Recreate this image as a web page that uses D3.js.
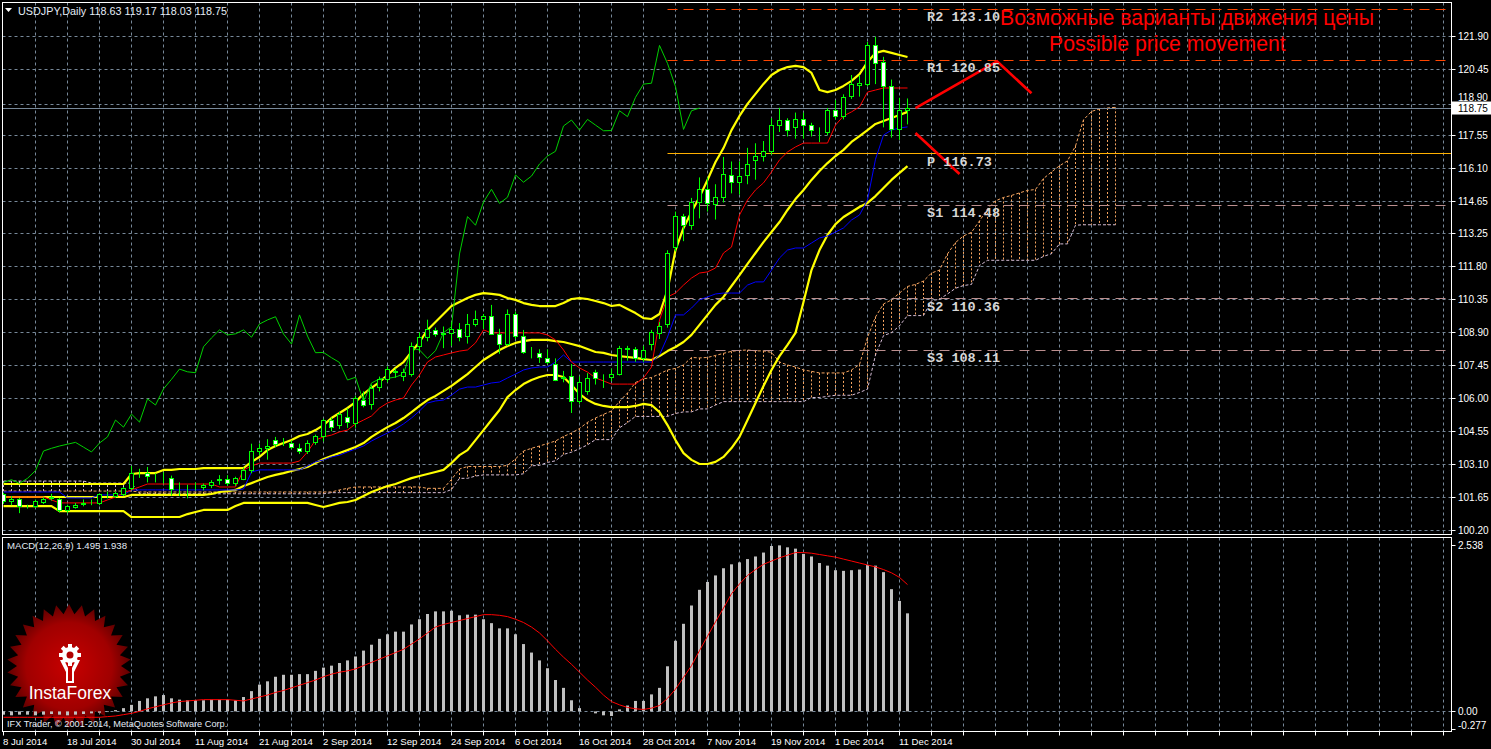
<!DOCTYPE html>
<html><head><meta charset="utf-8">
<script src="https://cdn.jsdelivr.net/npm/d3@7/dist/d3.min.js"></script>
<style>html,body{margin:0;padding:0;background:#000;overflow:hidden}svg{display:block}</style>
</head><body>
<svg id="c" width="1491" height="749"></svg>
<script>
// ---------------- DATA ----------------
const symbolTitle = "USDJPY,Daily  118.63 119.17 118.03 118.75";
const macdTitle = "MACD(12,26,9) 1.495 1.938";
const dateLabels = ["8 Jul 2014","18 Jul 2014","30 Jul 2014","11 Aug 2014","21 Aug 2014","2 Sep 2014","12 Sep 2014","24 Sep 2014","6 Oct 2014","16 Oct 2014","28 Oct 2014","7 Nov 2014","19 Nov 2014","1 Dec 2014","11 Dec 2014"];
const priceTicks = [121.90,120.45,118.90,117.55,116.10,114.65,113.25,111.80,110.35,108.90,107.45,106.00,104.55,103.10,101.65,100.20];
const macdTicks = [2.538,0.00,-0.277];
const lastPrice = 118.75;

const open  = [101.75,101.45,101.57,101.23,101.23,101.41,101.58,101.56,101.06,101.22,101.33,101.40,101.38,101.75,101.70,101.78,102.05,102.72,102.70,102.48,102.50,102.48,102.00,101.97,102.10,102.08,102.15,102.40,102.41,102.26,102.45,102.82,103.68,103.78,104.16,104.05,104.02,103.81,103.64,104.06,104.30,105.00,104.78,105.17,104.91,105.92,105.74,106.45,106.84,107.15,106.97,107.02,108.26,108.65,108.97,108.82,108.85,109.00,108.70,109.26,109.44,109.58,108.82,108.38,109.66,108.70,108.00,107.95,107.76,107.50,106.88,106.95,105.85,106.30,107.12,106.92,106.92,107.06,108.19,108.16,107.75,108.35,108.85,109.22,112.60,113.98,113.60,114.59,115.18,114.49,114.83,115.80,115.48,115.80,116.44,116.64,116.84,117.96,118.22,117.90,118.25,117.96,117.75,117.66,118.66,118.37,119.25,119.75,119.80,121.50,120.74,119.69,117.81,118.63];
const high  = [101.85,101.70,101.62,101.32,101.55,101.65,101.80,101.62,101.32,101.40,101.55,101.55,101.82,101.90,101.90,102.10,103.02,102.90,102.98,102.70,102.75,102.60,102.30,102.20,102.30,102.25,102.40,102.62,102.62,102.55,102.95,104.00,104.00,104.20,104.30,104.25,104.15,104.00,104.15,104.40,105.10,105.15,105.40,105.55,106.10,106.30,106.60,106.95,107.40,107.30,107.30,108.45,108.90,109.45,109.10,109.15,109.35,109.30,109.70,109.85,109.70,110.10,109.05,109.90,109.80,109.00,108.25,108.15,108.15,107.75,107.20,107.50,106.95,107.10,107.25,107.05,107.30,108.30,108.30,108.25,108.30,109.00,109.35,112.50,114.20,114.10,114.80,115.70,115.70,115.40,116.60,116.40,116.40,117.00,117.20,117.30,118.30,118.76,118.30,118.55,118.55,118.10,117.90,118.75,119.10,119.35,120.20,120.20,121.65,121.88,121.00,120.00,119.20,119.17];
const low   = [101.35,101.30,100.95,101.15,101.18,101.35,101.50,100.98,100.95,101.15,101.25,101.30,101.30,101.60,101.62,101.70,101.95,102.50,102.30,102.30,102.25,101.72,101.70,101.60,101.95,101.95,102.05,102.20,102.15,102.15,102.40,102.70,103.50,103.30,103.85,103.90,103.75,103.55,103.55,103.95,104.10,104.55,104.65,104.70,104.70,105.60,105.50,106.30,106.70,106.90,106.75,106.95,108.05,108.50,108.70,108.20,108.30,108.50,108.40,109.15,109.05,108.80,107.95,108.30,108.60,107.95,107.75,107.55,107.50,106.75,106.70,105.35,105.75,106.15,106.60,106.45,106.75,107.00,107.65,107.60,107.60,108.10,108.60,109.10,112.45,112.90,113.40,113.90,114.20,113.85,114.60,115.00,114.95,115.40,115.60,116.40,116.70,117.70,117.50,117.40,117.40,117.50,117.25,117.55,118.25,118.25,119.15,119.25,119.70,119.80,117.90,117.45,117.35,118.03];
const close = [101.45,101.56,101.23,101.24,101.44,101.56,101.64,101.06,101.24,101.30,101.36,101.42,101.75,101.76,101.82,102.05,102.70,102.74,102.55,102.49,102.51,102.00,102.01,101.98,102.12,102.18,102.30,102.42,102.26,102.48,102.82,103.68,103.80,103.90,103.98,104.06,103.85,103.64,104.03,104.30,105.04,104.73,105.30,104.95,105.97,105.70,106.41,106.83,107.28,107.16,107.12,108.26,108.65,109.00,108.78,108.83,109.00,108.68,109.26,109.44,109.58,108.82,108.38,109.66,108.73,108.00,108.01,107.78,107.57,106.80,106.92,105.85,106.67,106.85,106.87,106.93,107.06,108.19,108.12,107.75,108.09,108.88,109.14,112.34,113.98,113.60,114.62,115.18,114.56,114.83,115.81,115.49,115.76,116.29,116.64,116.85,117.96,118.22,117.78,118.25,118.00,117.75,117.76,118.63,118.37,119.22,119.80,119.84,121.50,120.71,119.69,117.81,118.63,118.75];

const tenkan = [101.66,101.66,101.66,101.66,101.66,101.66,101.53,101.40,101.40,101.40,101.40,101.40,101.40,101.53,101.66,101.84,101.97,102.10,102.23,102.23,102.23,102.23,102.23,102.23,102.23,102.23,102.23,102.10,102.10,102.10,102.85,103.02,103.15,103.15,103.15,103.15,103.15,103.24,103.64,104.16,104.30,104.38,104.52,104.60,104.87,105.04,105.22,105.57,105.79,105.92,106.01,106.58,107.02,107.59,107.81,107.90,107.99,108.07,108.12,108.43,109.00,108.87,108.87,108.87,108.87,108.87,108.87,108.87,108.78,108.56,108.12,107.59,107.33,107.15,106.89,106.76,106.62,106.62,106.62,106.62,106.89,107.37,109.44,110.45,110.62,110.97,111.28,111.50,111.55,111.72,112.38,112.64,114.05,114.71,115.15,115.46,115.94,116.47,116.82,117.04,117.21,117.21,117.21,117.21,118.00,118.40,118.58,118.80,119.45,119.54,119.63,119.63,119.63,119.63];
const kijun = [101.88,101.88,101.88,101.88,101.88,101.88,101.88,101.88,101.62,101.62,101.62,101.62,101.75,101.75,101.75,101.75,101.97,101.97,101.97,101.97,101.97,101.97,101.97,101.97,101.97,101.97,101.97,101.97,101.97,101.97,102.01,102.76,102.85,102.85,102.85,102.85,102.85,102.85,103.02,103.20,103.29,103.42,103.50,103.64,103.77,103.90,104.12,104.30,104.47,104.65,104.87,105.13,105.44,105.79,105.88,105.92,106.14,106.40,106.49,106.49,106.58,106.67,106.71,106.89,107.06,107.24,107.33,107.37,107.37,107.59,107.90,107.59,107.59,107.59,107.59,107.59,107.59,107.59,107.59,107.59,107.59,107.59,107.90,108.69,109.66,109.66,109.96,110.32,110.45,110.58,110.62,110.62,110.62,110.97,111.11,111.11,111.63,112.16,112.51,112.60,112.60,112.82,113.04,113.13,113.30,113.48,113.83,114.05,114.71,116.50,117.56,117.78,117.87,117.92];

const bbUpper = [102.23,102.23,102.23,102.23,102.23,102.23,102.23,102.23,102.23,102.23,102.23,102.23,102.23,102.23,102.23,102.23,102.67,102.71,102.71,102.71,102.85,102.85,102.89,102.89,102.89,102.93,102.93,102.93,102.93,102.93,102.93,103.20,103.42,103.72,103.90,104.03,104.16,104.34,104.43,104.60,104.82,105.13,105.35,105.57,105.83,106.19,106.45,106.71,107.02,107.33,107.59,108.03,108.47,109.00,109.35,109.70,110.05,110.23,110.40,110.54,110.62,110.58,110.54,110.40,110.32,110.18,110.10,110.05,110.05,110.05,110.18,110.36,110.40,110.36,110.27,110.18,110.05,110.10,109.92,109.74,109.52,109.48,109.70,110.75,112.51,113.48,114.18,114.84,115.59,116.38,116.99,117.78,118.40,118.93,119.37,119.81,120.20,120.42,120.55,120.60,120.55,120.29,119.54,119.45,119.54,119.72,119.94,120.24,120.77,121.17,121.26,121.17,121.08,120.99];
const bbMiddle = [101.66,101.66,101.66,101.66,101.66,101.66,101.66,101.66,101.66,101.66,101.66,101.66,101.66,101.66,101.66,101.66,101.75,101.75,101.75,101.75,101.75,101.75,101.75,101.75,101.75,101.75,101.79,101.88,101.92,101.97,102.14,102.27,102.41,102.54,102.63,102.71,102.80,102.89,102.98,103.15,103.33,103.46,103.59,103.72,103.86,104.03,104.30,104.52,104.73,104.91,105.13,105.39,105.66,105.92,106.10,106.32,106.54,106.80,107.06,107.37,107.68,107.90,108.12,108.29,108.43,108.51,108.56,108.56,108.56,108.51,108.47,108.38,108.29,108.16,108.03,107.99,107.90,107.85,107.81,107.77,107.72,107.68,107.85,108.07,108.25,108.47,108.78,109.22,109.66,110.10,110.45,110.93,111.41,111.90,112.38,112.86,113.30,113.74,114.27,114.75,115.15,115.59,115.98,116.33,116.64,116.91,117.26,117.52,117.78,118.05,118.18,118.31,118.44,118.58];
const bbLower = [101.26,101.26,101.26,101.26,101.26,101.26,101.26,101.04,101.04,101.04,101.04,101.04,101.04,101.04,101.04,101.04,100.78,100.78,100.78,100.78,100.78,100.78,100.78,100.91,101.00,101.09,101.09,101.09,101.09,101.26,101.40,101.40,101.40,101.40,101.40,101.40,101.40,101.40,101.40,101.31,101.22,101.31,101.40,101.44,101.53,101.70,101.88,102.01,102.14,102.23,102.36,102.49,102.58,102.67,102.76,102.85,103.15,103.50,103.72,104.16,104.60,105.04,105.48,106.05,106.36,106.62,106.80,106.93,107.02,107.02,106.93,106.58,106.19,105.92,105.75,105.66,105.61,105.61,105.61,105.66,105.75,105.70,105.39,104.82,104.16,103.59,103.29,103.11,103.11,103.20,103.42,103.81,104.30,105.04,105.79,106.54,107.24,107.85,108.34,108.87,110.23,111.63,112.51,113.17,113.65,113.96,114.18,114.40,114.58,114.88,115.24,115.59,115.90,116.20];

// Ichimoku cloud (extends 26 bars beyond the last candle)
const spanA = [101.92,101.92,101.92,101.92,101.92,101.92,101.92,101.92,101.92,101.92,101.92,101.92,101.92,101.92,101.92,101.92,101.92,101.88,101.88,101.88,101.88,101.88,101.88,101.88,101.88,101.88,101.88,101.88,101.88,101.88,101.88,101.88,101.88,101.88,101.88,101.88,101.88,101.88,101.88,101.88,101.88,101.88,101.97,102.04,102.10,102.10,102.10,102.10,102.10,102.10,102.10,102.10,102.10,102.04,102.04,102.04,102.43,102.89,103.00,103.00,103.00,103.00,103.00,103.05,103.33,103.68,103.80,103.90,104.01,104.12,104.32,104.47,104.67,104.94,105.13,105.29,105.44,105.86,106.23,106.69,106.85,106.91,107.07,107.24,107.31,107.46,107.79,107.77,107.79,107.88,107.97,108.06,108.10,108.12,108.08,108.08,108.01,107.59,107.46,107.37,107.24,107.18,107.11,107.11,107.11,107.11,107.24,107.48,108.67,109.57,110.14,110.32,110.62,110.91,111.00,111.15,111.50,111.63,112.34,112.84,113.13,113.29,113.79,114.32,114.67,114.82,114.91,115.02,115.13,115.17,115.65,115.94,116.21,116.43,117.08,118.23,118.60,118.71,118.75,118.78];
const spanB = [102.36,102.36,102.36,102.36,102.36,102.36,102.36,102.36,102.36,102.36,102.36,102.27,102.27,102.27,102.27,102.27,102.27,101.80,101.80,101.80,101.80,101.80,101.80,101.80,101.80,101.80,101.80,101.80,101.80,101.80,101.80,101.80,101.80,101.80,101.80,101.80,101.80,101.80,101.80,101.80,101.80,101.85,101.85,101.85,101.85,101.85,101.85,101.85,101.85,101.85,101.85,101.85,101.85,101.85,101.85,101.85,101.99,102.48,102.48,102.58,102.63,102.63,102.63,102.63,102.63,102.68,103.03,103.05,103.18,103.25,103.53,103.63,103.78,103.95,104.18,104.18,104.18,104.70,104.93,105.20,105.20,105.20,105.20,105.20,105.33,105.40,105.40,105.53,105.53,105.70,105.85,105.85,105.85,105.85,105.85,105.85,105.85,105.85,105.85,105.85,105.85,106.03,106.03,106.08,106.13,106.13,106.13,106.25,106.40,107.90,108.75,108.88,109.18,109.63,109.63,109.63,110.28,110.35,110.58,110.83,110.95,111.00,111.83,112.06,112.06,112.06,112.06,112.06,112.06,112.06,112.23,112.35,112.78,112.78,113.60,113.62,113.62,113.62,113.62,113.62];

const macd = [-0.05,-0.06,-0.05,-0.05,-0.06,-0.05,-0.04,-0.05,-0.06,-0.05,-0.04,-0.03,-0.02,-0.01,0.02,0.05,0.10,0.16,0.20,0.23,0.25,0.20,0.18,0.17,0.17,0.17,0.18,0.18,0.18,0.17,0.22,0.31,0.41,0.46,0.53,0.56,0.56,0.57,0.57,0.62,0.67,0.70,0.74,0.78,0.84,0.93,1.02,1.11,1.18,1.22,1.22,1.33,1.41,1.49,1.53,1.53,1.54,1.47,1.48,1.48,1.41,1.35,1.27,1.27,1.18,1.03,0.90,0.78,0.66,0.48,0.36,0.17,0.05,0.00,-0.03,-0.06,-0.07,0.03,0.09,0.16,0.16,0.26,0.36,0.69,1.08,1.34,1.62,1.86,1.98,2.08,2.19,2.25,2.28,2.33,2.37,2.43,2.53,2.54,2.51,2.49,2.41,2.37,2.27,2.23,2.16,2.15,2.16,2.17,2.24,2.23,2.13,1.87,1.69,1.50];
const signal = [-0.09,-0.09,-0.09,-0.09,-0.09,-0.09,-0.09,-0.09,-0.09,-0.09,-0.09,-0.09,-0.09,-0.08,-0.07,-0.05,-0.03,0.00,0.04,0.07,0.10,0.13,0.15,0.16,0.17,0.18,0.18,0.18,0.18,0.17,0.16,0.19,0.22,0.25,0.29,0.32,0.36,0.40,0.44,0.48,0.53,0.57,0.60,0.62,0.65,0.70,0.75,0.80,0.85,0.90,0.95,1.03,1.11,1.20,1.29,1.33,1.36,1.39,1.42,1.45,1.48,1.48,1.47,1.45,1.41,1.36,1.29,1.20,1.08,0.95,0.83,0.72,0.60,0.48,0.37,0.25,0.15,0.10,0.06,0.04,0.03,0.05,0.09,0.20,0.34,0.52,0.70,0.93,1.15,1.37,1.58,1.80,1.95,2.08,2.17,2.25,2.30,2.35,2.39,2.43,2.43,2.42,2.40,2.38,2.36,2.33,2.30,2.27,2.24,2.21,2.17,2.12,2.05,1.94];

const pivotNames  = ["R2","R1","P","S1","S2","S3"];
const pivotValues = [123.10,120.85,116.73,114.48,110.36,108.11];
const pivotStartBar = 83;

// hand-drawn forecast arrows (bar index, price)
const forecastUp   = [[114,118.75],[124.2,120.80],[128.5,119.40]];
const forecastDown = [[114,117.65],[119.5,115.85]];
const noteRu = "Возможные варианты движения цены";
const noteEn = "Possible price movement";
const copyright = "IFX Trader, © 2001-2014, MetaQuotes Software Corp.";
const logoText = "InstaForex";

// ---------------- LAYOUT ----------------
const svg = d3.select("#c");
const L = 2.5, R = 1451.5, T = 2.5, MB = 534.5, MT = 537.5, BB = 731.5;
const x = d3.scaleLinear().domain([0, 1]).range([3.5, 11.5]);
const y = d3.scaleLinear().domain([99.99, 123.32]).range([535, 4]);
const ym = d3.scaleLinear().domain([-0.277, 2.538]).range([729.5, 545.5]);
const cr = v => Math.floor(v) + 0.5;
const gridColor = "#778899";
const font = "'Liberation Sans', Arial, sans-serif";

svg.append("rect").attr("width", 1491).attr("height", 749).attr("fill", "#000");
const defs = svg.append("defs");
defs.append("clipPath").attr("id", "cm").append("rect").attr("x", 3).attr("y", 3).attr("width", 1448).attr("height", 531);
defs.append("clipPath").attr("id", "cd").append("rect").attr("x", 3).attr("y", 538).attr("width", 1448).attr("height", 193);
const rg = defs.append("radialGradient").attr("id", "lg");
rg.append("stop").attr("offset", "0%").attr("stop-color", "#c80000");
rg.append("stop").attr("offset", "70%").attr("stop-color", "#a00000");
rg.append("stop").attr("offset", "100%").attr("stop-color", "#600000");

const nBars = close.length;
const gridBars = d3.range(4, 181, 4);

// ---------------- MAIN PANEL ----------------
const main = svg.append("g").attr("clip-path", "url(#cm)");
main.selectAll(".vg").data(gridBars).join("line")
  .attr("x1", k => cr(x(k))).attr("x2", k => cr(x(k))).attr("y1", T).attr("y2", MB)
  .attr("stroke", gridColor).attr("stroke-dasharray", "3,3");
main.selectAll(".hg").data(priceTicks).join("line")
  .attr("x1", L).attr("x2", R).attr("y1", v => cr(y(v))).attr("y2", v => cr(y(v)))
  .attr("stroke", gridColor).attr("stroke-dasharray", "3,3");

// cloud hatch
const cloud = spanA.map((a, j) => ({ j, a, b: spanB[j] }));
main.selectAll(".hatch").data(cloud).join("line")
  .attr("x1", d => cr(x(d.j))).attr("x2", d => cr(x(d.j)))
  .attr("y1", d => y(d.a)).attr("y2", d => y(d.b))
  .attr("stroke", d => d.a >= d.b ? "#f4a460" : "#d8bfd8")
  .attr("stroke-dasharray", "2,2").attr("stroke-width", 1);
const lineA = d3.line().x((d, j) => x(j)).y(d => y(d));
main.append("path").attr("d", lineA(spanA)).attr("fill", "none").attr("stroke", "#f4a460").attr("stroke-dasharray", "3,2");
main.append("path").attr("d", lineA(spanB)).attr("fill", "none").attr("stroke", "#d8bfd8").attr("stroke-dasharray", "3,2");

// pivot lines
const pivColor = n => n[0] === "R" ? "#ff4500" : (n === "P" ? "#ffb000" : "#bc8f8f");
main.selectAll(".piv").data(pivotValues).join("line")
  .attr("x1", x(pivotStartBar)).attr("x2", R)
  .attr("y1", v => cr(y(v))).attr("y2", v => cr(y(v)))
  .attr("stroke", (v, i) => pivColor(pivotNames[i]))
  .attr("stroke-dasharray", (v, i) => pivotNames[i] === "P" ? null : "10,6");

// current price line
main.append("line").attr("x1", L).attr("x2", R).attr("y1", cr(y(lastPrice))).attr("y2", cr(y(lastPrice)))
  .attr("stroke", "#778899");

// Bollinger bands
const lineS = d3.line().x((d, k) => x(k)).y(d => y(d));
[bbUpper, bbMiddle, bbLower].forEach(s =>
  main.append("path").attr("d", lineS(s)).attr("fill", "none").attr("stroke", "#ffff00").attr("stroke-width", 2.2).attr("stroke-linejoin", "round"));
main.append("path").attr("d", lineS(kijun)).attr("fill", "none").attr("stroke", "#0000ff").attr("stroke-width", 1);
main.append("path").attr("d", lineS(tenkan)).attr("fill", "none").attr("stroke", "#ff0000").attr("stroke-width", 1);
// chikou = close shifted back 26 bars
const chikou = close.slice(26);
main.append("path").attr("d", lineS(chikou)).attr("fill", "none").attr("stroke", "#00d000").attr("stroke-width", 1);

// candles
const bars = d3.range(nBars).map(k => ({ k, o: open[k], h: high[k], l: low[k], c: close[k] }));
const cg = main.append("g");
cg.selectAll(".wick").data(bars).join("line")
  .attr("x1", d => cr(x(d.k))).attr("x2", d => cr(x(d.k)))
  .attr("y1", d => y(d.h)).attr("y2", d => y(d.l)).attr("stroke", "#00ff00");
cg.selectAll(".body").data(bars).join("rect")
  .attr("x", d => cr(x(d.k)) - 2).attr("width", 4)
  .attr("y", d => cr(y(Math.max(d.o, d.c))))
  .attr("height", d => Math.max(0, cr(y(Math.min(d.o, d.c))) - cr(y(Math.max(d.o, d.c)))))
  .attr("fill", d => d.c >= d.o ? "#000" : "#fff").attr("stroke", "#00ff00").attr("stroke-width", 1);

// forecast arrows
const lineF = d3.line().x(d => x(d[0])).y(d => y(d[1]));
[forecastUp, forecastDown].forEach(f =>
  main.append("path").attr("d", lineF(f)).attr("fill", "none").attr("stroke", "#ff0000").attr("stroke-width", 2.6));

// pivot labels
main.selectAll(".pl").data(pivotValues).join("text")
  .attr("x", x(115.45)).attr("y", v => y(v) + 12)
  .attr("fill", "#d6d6d6").attr("font-family", "'Liberation Mono', 'DejaVu Sans Mono', monospace")
  .attr("font-weight", "bold").attr("font-size", 13.5)
  .text((v, i) => pivotNames[i] + " " + v.toFixed(2));

// notes
main.append("text").attr("x", 1000).attr("y", 25).attr("fill", "#ff0000").attr("font-family", font).attr("font-size", 21.2).text(noteRu);
main.append("text").attr("x", 1049).attr("y", 51).attr("fill", "#ff0000").attr("font-family", font).attr("font-size", 21.2).text(noteEn);

// title
svg.append("path").attr("d", "M5,8 L12,8 L8.5,12 Z").attr("fill", "#fff");
svg.append("text").attr("x", 18).attr("y", 15).attr("fill", "#e4ecf6").attr("font-family", font).attr("font-size", 10.8).text(symbolTitle);

// ---------------- MACD PANEL ----------------
const mg = svg.append("g").attr("clip-path", "url(#cd)");
mg.selectAll(".vg").data(gridBars).join("line")
  .attr("x1", k => cr(x(k))).attr("x2", k => cr(x(k))).attr("y1", MT).attr("y2", BB)
  .attr("stroke", gridColor).attr("stroke-dasharray", "3,3");
mg.append("line").attr("x1", L).attr("x2", R).attr("y1", cr(ym(0))).attr("y2", cr(ym(0)))
  .attr("stroke", gridColor).attr("stroke-dasharray", "3,3");

// logo (behind histogram)
const cx0 = 69, cy0 = 666, nSp = 30;
const starPts = d3.range(nSp * 2).map(i => {
  const a = Math.PI * i / nSp - Math.PI / 2, r = i % 2 ? 52 : 62;
  return [cx0 + r * Math.cos(a), cy0 + r * Math.sin(a)];
});
mg.append("path").attr("d", "M" + starPts.map(p => p.join(",")).join("L") + "Z").attr("fill", "url(#lg)");
const icon = mg.append("g").attr("fill", "#fff");
d3.range(8).forEach(i => {
  icon.append("rect").attr("x", cx0 - 1).attr("y", 644).attr("width", 4).attr("height", 5)
    .attr("transform", `rotate(${i * 45},${cx0 + 1},655)`);
});
icon.append("circle").attr("cx", cx0 + 1).attr("cy", 655).attr("r", 8);
mg.append("circle").attr("cx", cx0 + 1).attr("cy", 655).attr("r", 3.5).attr("fill", "#b00000");
icon.append("path").attr("d", `M${cx0 - 9},660 L${cx0 - 5},660 L${cx0 - 1},668 L${cx0 - 1},681 L${cx0 + 3},681 L${cx0 + 3},668 L${cx0 + 7},660 L${cx0 + 11},660 L${cx0 + 5},672 L${cx0 + 5},683 L${cx0 - 3},683 L${cx0 - 3},672 Z`);
mg.append("text").attr("x", cx0 + 1).attr("y", 699).attr("text-anchor", "middle").attr("fill", "#fff")
  .attr("font-family", font).attr("font-size", 17.5).text(logoText);

// histogram + signal
mg.selectAll(".mh").data(macd).join("rect")
  .attr("x", (v, k) => cr(x(k)) - 1.5).attr("width", 3)
  .attr("y", v => Math.min(ym(v), ym(0))).attr("height", v => Math.abs(ym(v) - ym(0)))
  .attr("fill", "#c0c0c0");
mg.append("path").attr("d", d3.line().x((d, k) => x(k)).y(d => ym(d))(signal))
  .attr("fill", "none").attr("stroke", "#ff0000").attr("stroke-width", 1);

mg.append("text").attr("x", 7).attr("y", 549).attr("fill", "#e4ecf6").attr("font-family", font).attr("font-size", 9.6).text(macdTitle);
mg.append("text").attr("x", 7).attr("y", 727).attr("fill", "#e4ecf6").attr("font-family", font).attr("font-size", 9.2).text(copyright);

// ---------------- FRAMES & AXES ----------------
const fr = svg.append("g").attr("fill", "none").attr("stroke", "#fff");
fr.append("rect").attr("x", L).attr("y", T).attr("width", R - L).attr("height", MB - T);
fr.append("rect").attr("x", L).attr("y", MT).attr("width", R - L).attr("height", BB - MT);

// right price axis (label of the grid line hidden under the last-price box is lifted above it)
const boxTop = y(lastPrice) - 6.5;
const ax = svg.append("g").attr("font-family", font).attr("font-size", 10).attr("fill", "#fff");
ax.selectAll("line").data(priceTicks).join("line")
  .attr("x1", R).attr("x2", R + 4).attr("y1", v => cr(y(v))).attr("y2", v => cr(y(v))).attr("stroke", "#fff");
ax.selectAll("text").data(priceTicks).join("text")
  .attr("x", 1458).attr("y", v => Math.abs(v - lastPrice) < 0.5 ? boxTop - 0.5 : y(v) + 3.5).text(v => v.toFixed(2));
svg.append("rect").attr("x", 1452).attr("y", boxTop).attr("width", 39).attr("height", 13).attr("fill", "#fff");
svg.append("text").attr("x", 1458).attr("y", y(lastPrice) + 3.5).attr("fill", "#000").attr("font-family", font).attr("font-size", 10).text(lastPrice.toFixed(2));

// MACD axis
const mx = svg.append("g").attr("font-family", font).attr("font-size", 10).attr("fill", "#fff");
mx.selectAll("line").data(macdTicks).join("line")
  .attr("x1", R).attr("x2", R + 4).attr("y1", v => cr(ym(v))).attr("y2", v => cr(ym(v))).attr("stroke", "#fff");
mx.selectAll("text").data(macdTicks).join("text")
  .attr("x", 1458).attr("y", v => ym(v) + (v < 0 ? -1 : 3.5)).text(v => v === 0 ? "0.00" : v.toFixed(3));

// time axis
const tx = svg.append("g");
tx.selectAll("line").data(gridBars.concat([0]).filter(k => x(k) < R)).join("line")
  .attr("x1", k => cr(x(k))).attr("x2", k => cr(x(k))).attr("y1", BB).attr("y2", BB + 4).attr("stroke", "#fff");
tx.selectAll("text").data(dateLabels).join("text")
  .attr("x", (d, i) => x(i * 8) - 0.5).attr("y", 745)
  .attr("fill", "#fff").attr("font-family", font).attr("font-size", 9.6).text(d => d);
</script>
</body></html>
